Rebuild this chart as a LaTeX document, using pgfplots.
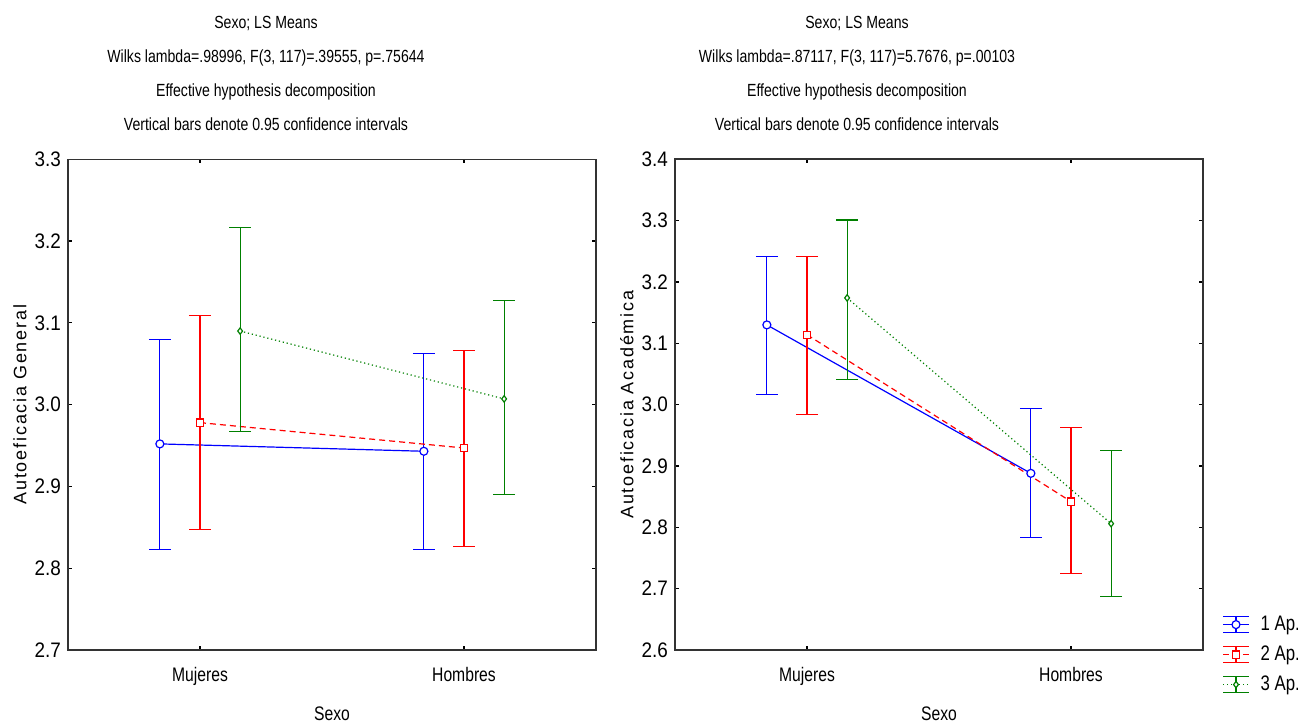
\documentclass[border=0pt]{standalone}
\usepackage{pgfplots}
\pgfplotsset{compat=1.18}
\usepackage{pgfplotstable}
\usepackage{fontspec}
\setmainfont{Liberation Sans}[FakeStretch=0.8]
\newfontfamily\tickfont{Liberation Sans}[FakeStretch=0.9]
\newfontfamily\ylabfont{Liberation Sans}[LetterSpace=10]

\definecolor{sblue}{RGB}{0,0,255}
\definecolor{sred}{RGB}{255,0,0}
\definecolor{sgreen}{RGB}{0,128,0}

% LS means with 0.95 CI; x = category (1 Mujeres, 2 Hombres) shifted per group
% ep/em = upper/lower half width
\pgfplotstableread{
x     y     ep    em
0.848 2.952 0.128 0.129
1.848 2.943 0.120 0.120
}\genA
\pgfplotstableread{
x     y     ep    em
1.000 2.978 0.131 0.131
2.000 2.947 0.119 0.120
}\genB
\pgfplotstableread{
x     y     ep    em
1.152 3.090 0.127 0.123
2.152 3.007 0.120 0.117
}\genC
\pgfplotstableread{
x     y     ep    em
0.848 3.130 0.111 0.114
1.848 2.888 0.106 0.105
}\acaA
\pgfplotstableread{
x     y     ep    em
1.000 3.114 0.127 0.130
2.000 2.842 0.121 0.117
}\acaB
\pgfplotstableread{
x     y     ep    em
1.152 3.174 0.127 0.133
2.152 2.806 0.119 0.119
}\acaC

\pgfplotsset{
  panel/.style={
    width=264pt, height=245.35pt, scale only axis, anchor=south west,
    xmin=0.5, xmax=2.5, xtick={1,2}, xticklabels={Mujeres,Hombres},
    tick align=inside, major tick length=2pt,
    tick style={black, line width=0.6pt},
    axis line style={black!80, line width=0.8pt},
    xticklabel style={font=\fontsize{9.8}{11}\selectfont, yshift=-5pt},
    yticklabel style={font=\tickfont\fontsize{10.5}{12}\selectfont,
      /pgf/number format/fixed, /pgf/number format/fixed zerofill,
      /pgf/number format/precision=1},
    /pgf/number format/assume math mode=true,
    xlabel={Sexo},
    xlabel style={font=\fontsize{9.8}{11}\selectfont,
      at={(axis description cs:0.5,0)}, anchor=north, yshift=-25pt},
    ylabel style={font=\ylabfont\fontsize{9}{10}\selectfont,
      at={(axis description cs:-0.091,0.5)}, anchor=center},
    clip=false,
  },
  ebar/.style={error bars/.cd, y dir=both, y explicit,
    error bar style={/tikz/solid, /tikz/line width=0.6pt, /tikz/color=#1},
    error mark options={solid, rotate=90, mark size=5.5pt, line width=0.6pt, color=#1}},
  s1/.style={sblue, solid, line width=0.6pt, mark=*, mark size=2pt,
    mark options={solid, fill=white}, ebar=sblue},
  s2/.style={sred, dash pattern=on 3pt off 2pt, line width=0.6pt, mark=square*,
    mark size=1.8pt, mark options={solid, fill=white}, ebar=sred},
  s3/.style={sgreen, dash pattern=on 0.6pt off 1.4pt, line width=0.6pt,
    mark=diamond*, mark size=1.6pt, mark options={solid, fill=white}, ebar=sgreen},
}

\begin{document}
\begin{tikzpicture}
\path[use as bounding box] (0,0) rectangle (649pt,361.5pt);

\begin{axis}[panel, at={(34pt,36.5pt)},
  ymin=2.7, ymax=3.3, ytick={2.7,2.8,2.9,3.0,3.1,3.2,3.3},
  ylabel={Autoeficacia General}]
\addplot[s1] table[x=x, y=y, y error plus=ep, y error minus=em] {\genA};
\addplot[s2] table[x=x, y=y, y error plus=ep, y error minus=em] {\genB};
\addplot[s3] table[x=x, y=y, y error plus=ep, y error minus=em] {\genC};
\end{axis}

\begin{axis}[panel, at={(337.5pt,36.5pt)},
  ymin=2.6, ymax=3.4, ytick={2.6,2.7,2.8,2.9,3.0,3.1,3.2,3.3,3.4},
  ylabel={Autoeficacia Académica},
  legend style={at={(1.036,0.077)}, anchor=north west, draw=none, fill=none,
    inner sep=0pt, row sep=3pt, font=\fontsize{10.5}{12}\selectfont,
    nodes={inner sep=1pt, text height=8pt, text depth=2pt},
    /tikz/every odd column/.append style={column sep=4.5pt}},
  legend cell align=left,
  legend image code/.code={
    \draw[#1, solid] (0pt,4pt) -- (13pt,4pt) (0pt,-4pt) -- (13pt,-4pt)
      (6.5pt,-4pt) -- (6.5pt,4pt);
    \draw[#1, mark repeat=2, mark phase=2]
      plot coordinates {(0pt,0pt) (6.5pt,0pt) (13pt,0pt)};
  }]
\addplot[s1] table[x=x, y=y, y error plus=ep, y error minus=em] {\acaA};
\addplot[s2] table[x=x, y=y, y error plus=ep, y error minus=em] {\acaB};
\addplot[s3] table[x=x, y=y, y error plus=ep, y error minus=em] {\acaC};
\legend{1 Ap.,2 Ap.,3 Ap.}
\end{axis}

\begin{scope}[every node/.style={font=\fontsize{8.8}{10}\selectfont, anchor=base, inner sep=0pt}]
\node at (133pt,347.3pt) {Sexo; LS Means};
\node at (133pt,330.2pt) {Wilks lambda=.98996, F(3, 117)=.39555, p=.75644};
\node at (133pt,313.1pt) {Effective hypothesis decomposition};
\node at (133pt,296.0pt) {Vertical bars denote 0.95 confidence intervals};
\node at (428.5pt,347.3pt) {Sexo; LS Means};
\node at (428.5pt,330.2pt) {Wilks lambda=.87117, F(3, 117)=5.7676, p=.00103};
\node at (428.5pt,313.1pt) {Effective hypothesis decomposition};
\node at (428.5pt,296.0pt) {Vertical bars denote 0.95 confidence intervals};
\end{scope}
\end{tikzpicture}
\end{document}
